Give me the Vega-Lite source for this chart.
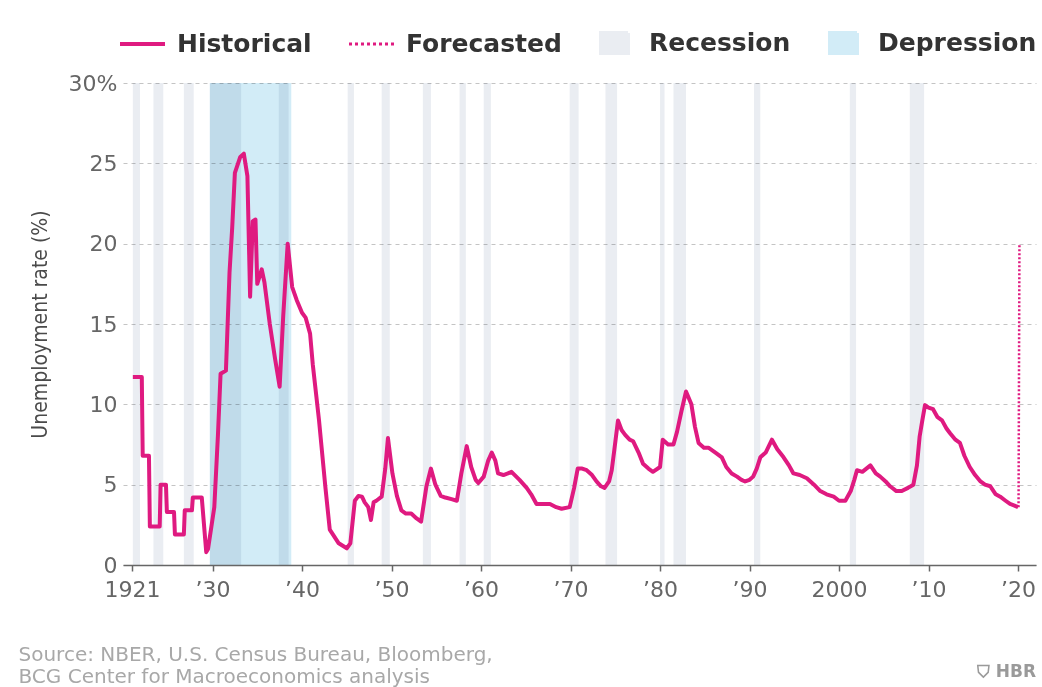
{
  "$schema": "https://vega.github.io/schema/vega-lite/v6.json",
  "width": 913,
  "height": 482,
  "autosize": {"type": "none"},
  "padding": {"left": 123, "top": 83, "right": 6, "bottom": 122},
  "background": "white",
  "config": {"view": {"stroke": null}, "font": "DejaVu Sans"},
  "title": {
    "text": "⛉ HBR",
    "orient": "bottom",
    "anchor": "end",
    "frame": "group",
    "font": "DejaVu Sans",
    "fontSize": 17,
    "fontWeight": "bold",
    "color": "#9a9a9a",
    "offset": 0,
    "dy": -22
  },
  "datasets": {
    "shading": [
      {"kind": "Depression", "start": 1929.7, "end": 1938.8},
      {"kind": "Recession", "start": 1921.1, "end": 1921.9},
      {"kind": "Recession", "start": 1923.4, "end": 1924.5},
      {"kind": "Recession", "start": 1926.8, "end": 1927.9},
      {"kind": "Recession", "start": 1929.7, "end": 1933.2},
      {"kind": "Recession", "start": 1937.4, "end": 1938.5},
      {"kind": "Recession", "start": 1945.1, "end": 1945.8},
      {"kind": "Recession", "start": 1948.9, "end": 1949.8},
      {"kind": "Recession", "start": 1953.5, "end": 1954.4},
      {"kind": "Recession", "start": 1957.6, "end": 1958.3},
      {"kind": "Recession", "start": 1960.3, "end": 1961.1},
      {"kind": "Recession", "start": 1969.9, "end": 1970.9},
      {"kind": "Recession", "start": 1973.9, "end": 1975.2},
      {"kind": "Recession", "start": 1980.0, "end": 1980.5},
      {"kind": "Recession", "start": 1981.5, "end": 1982.9},
      {"kind": "Recession", "start": 1990.5, "end": 1991.2},
      {"kind": "Recession", "start": 2001.2, "end": 2001.9},
      {"kind": "Recession", "start": 2007.9, "end": 2009.5}
    ],
    "historical": [
      {"year": 1921.1, "rate": 11.7}, {"year": 1922.1, "rate": 11.7},
      {"year": 1922.2, "rate": 6.8}, {"year": 1922.9, "rate": 6.8},
      {"year": 1923.0, "rate": 2.4}, {"year": 1924.1, "rate": 2.4},
      {"year": 1924.2, "rate": 5.0}, {"year": 1924.8, "rate": 5.0},
      {"year": 1924.9, "rate": 3.3}, {"year": 1925.7, "rate": 3.3},
      {"year": 1925.8, "rate": 1.9}, {"year": 1926.8, "rate": 1.9},
      {"year": 1926.9, "rate": 3.4}, {"year": 1927.7, "rate": 3.4},
      {"year": 1927.8, "rate": 4.2}, {"year": 1928.8, "rate": 4.2},
      {"year": 1929.3, "rate": 0.8}, {"year": 1929.5, "rate": 1.0},
      {"year": 1930.2, "rate": 3.6}, {"year": 1930.6, "rate": 8.0},
      {"year": 1930.9, "rate": 11.9}, {"year": 1931.5, "rate": 12.1},
      {"year": 1931.9, "rate": 18.2}, {"year": 1932.2, "rate": 21.0},
      {"year": 1932.5, "rate": 24.4}, {"year": 1933.1, "rate": 25.4},
      {"year": 1933.5, "rate": 25.6}, {"year": 1933.9, "rate": 24.2},
      {"year": 1934.2, "rate": 16.7}, {"year": 1934.5, "rate": 21.4},
      {"year": 1934.8, "rate": 21.5}, {"year": 1935.0, "rate": 17.5},
      {"year": 1935.5, "rate": 18.4}, {"year": 1935.8, "rate": 17.6},
      {"year": 1936.4, "rate": 15.0}, {"year": 1937.0, "rate": 12.8},
      {"year": 1937.5, "rate": 11.1}, {"year": 1937.9, "rate": 15.5},
      {"year": 1938.4, "rate": 20.0}, {"year": 1938.9, "rate": 17.3},
      {"year": 1939.4, "rate": 16.5}, {"year": 1940.0, "rate": 15.7},
      {"year": 1940.4, "rate": 15.4}, {"year": 1940.9, "rate": 14.4},
      {"year": 1941.2, "rate": 12.5}, {"year": 1941.9, "rate": 9.0},
      {"year": 1942.6, "rate": 4.9}, {"year": 1943.1, "rate": 2.2},
      {"year": 1944.1, "rate": 1.35}, {"year": 1945.0, "rate": 1.04},
      {"year": 1945.4, "rate": 1.35}, {"year": 1945.9, "rate": 4.0},
      {"year": 1946.3, "rate": 4.3}, {"year": 1946.7, "rate": 4.25},
      {"year": 1947.0, "rate": 3.9}, {"year": 1947.4, "rate": 3.6},
      {"year": 1947.7, "rate": 2.8}, {"year": 1948.0, "rate": 3.9},
      {"year": 1948.3, "rate": 4.0}, {"year": 1948.9, "rate": 4.25},
      {"year": 1949.3, "rate": 6.0}, {"year": 1949.6, "rate": 7.9},
      {"year": 1950.1, "rate": 5.7}, {"year": 1950.6, "rate": 4.3},
      {"year": 1951.1, "rate": 3.4}, {"year": 1951.6, "rate": 3.2},
      {"year": 1952.2, "rate": 3.2}, {"year": 1952.8, "rate": 2.9},
      {"year": 1953.3, "rate": 2.7}, {"year": 1953.9, "rate": 4.9},
      {"year": 1954.4, "rate": 6.0}, {"year": 1954.9, "rate": 5.0},
      {"year": 1955.5, "rate": 4.3}, {"year": 1956.0, "rate": 4.2},
      {"year": 1956.7, "rate": 4.1}, {"year": 1957.3, "rate": 4.0},
      {"year": 1957.8, "rate": 5.7}, {"year": 1958.4, "rate": 7.4},
      {"year": 1958.9, "rate": 6.1}, {"year": 1959.4, "rate": 5.3},
      {"year": 1959.7, "rate": 5.1}, {"year": 1960.3, "rate": 5.5},
      {"year": 1960.8, "rate": 6.5}, {"year": 1961.2, "rate": 7.0},
      {"year": 1961.6, "rate": 6.5}, {"year": 1961.9, "rate": 5.7},
      {"year": 1962.5, "rate": 5.6}, {"year": 1963.0, "rate": 5.7},
      {"year": 1963.4, "rate": 5.8}, {"year": 1964.3, "rate": 5.3},
      {"year": 1965.1, "rate": 4.8}, {"year": 1965.6, "rate": 4.4},
      {"year": 1966.2, "rate": 3.8}, {"year": 1966.8, "rate": 3.8},
      {"year": 1967.7, "rate": 3.8}, {"year": 1968.4, "rate": 3.6},
      {"year": 1969.0, "rate": 3.5}, {"year": 1969.9, "rate": 3.6},
      {"year": 1970.4, "rate": 4.8}, {"year": 1970.8, "rate": 6.0},
      {"year": 1971.3, "rate": 6.0}, {"year": 1971.8, "rate": 5.9},
      {"year": 1972.4, "rate": 5.6}, {"year": 1972.9, "rate": 5.2},
      {"year": 1973.4, "rate": 4.9}, {"year": 1973.8, "rate": 4.8},
      {"year": 1974.3, "rate": 5.2}, {"year": 1974.6, "rate": 5.9},
      {"year": 1974.9, "rate": 7.2}, {"year": 1975.3, "rate": 9.0},
      {"year": 1975.7, "rate": 8.4}, {"year": 1976.1, "rate": 8.1},
      {"year": 1976.6, "rate": 7.8}, {"year": 1977.0, "rate": 7.7},
      {"year": 1977.6, "rate": 7.0}, {"year": 1978.1, "rate": 6.3},
      {"year": 1978.7, "rate": 6.0}, {"year": 1979.2, "rate": 5.8},
      {"year": 1980.0, "rate": 6.1}, {"year": 1980.3, "rate": 7.8},
      {"year": 1980.9, "rate": 7.5}, {"year": 1981.5, "rate": 7.5},
      {"year": 1981.9, "rate": 8.3}, {"year": 1982.4, "rate": 9.6},
      {"year": 1982.9, "rate": 10.8}, {"year": 1983.5, "rate": 10.0},
      {"year": 1983.9, "rate": 8.6}, {"year": 1984.3, "rate": 7.6},
      {"year": 1984.9, "rate": 7.3}, {"year": 1985.4, "rate": 7.3},
      {"year": 1986.3, "rate": 6.95}, {"year": 1986.9, "rate": 6.7},
      {"year": 1987.4, "rate": 6.1}, {"year": 1988.0, "rate": 5.7},
      {"year": 1988.6, "rate": 5.5}, {"year": 1989.1, "rate": 5.3},
      {"year": 1989.5, "rate": 5.2}, {"year": 1990.0, "rate": 5.3},
      {"year": 1990.4, "rate": 5.5}, {"year": 1990.8, "rate": 6.0},
      {"year": 1991.2, "rate": 6.7}, {"year": 1991.8, "rate": 7.0},
      {"year": 1992.5, "rate": 7.8}, {"year": 1993.1, "rate": 7.2},
      {"year": 1993.8, "rate": 6.7}, {"year": 1994.4, "rate": 6.2},
      {"year": 1994.9, "rate": 5.7}, {"year": 1995.6, "rate": 5.6},
      {"year": 1996.4, "rate": 5.4}, {"year": 1997.2, "rate": 5.0},
      {"year": 1997.9, "rate": 4.6}, {"year": 1998.6, "rate": 4.4},
      {"year": 1999.4, "rate": 4.25}, {"year": 2000.0, "rate": 4.0},
      {"year": 2000.7, "rate": 4.0}, {"year": 2001.3, "rate": 4.6},
      {"year": 2001.7, "rate": 5.3}, {"year": 2002.0, "rate": 5.9},
      {"year": 2002.6, "rate": 5.8}, {"year": 2003.5, "rate": 6.2},
      {"year": 2004.1, "rate": 5.7}, {"year": 2004.6, "rate": 5.5},
      {"year": 2005.2, "rate": 5.2}, {"year": 2005.7, "rate": 4.9},
      {"year": 2006.4, "rate": 4.6}, {"year": 2007.0, "rate": 4.6},
      {"year": 2007.7, "rate": 4.8}, {"year": 2008.3, "rate": 5.0},
      {"year": 2008.7, "rate": 6.2}, {"year": 2009.0, "rate": 8.0},
      {"year": 2009.3, "rate": 9.0}, {"year": 2009.6, "rate": 9.95},
      {"year": 2010.0, "rate": 9.8}, {"year": 2010.5, "rate": 9.7},
      {"year": 2011.0, "rate": 9.2}, {"year": 2011.5, "rate": 9.0},
      {"year": 2012.0, "rate": 8.5}, {"year": 2012.4, "rate": 8.2},
      {"year": 2013.0, "rate": 7.8}, {"year": 2013.5, "rate": 7.6},
      {"year": 2014.0, "rate": 6.8}, {"year": 2014.6, "rate": 6.1},
      {"year": 2015.2, "rate": 5.6}, {"year": 2015.8, "rate": 5.2},
      {"year": 2016.3, "rate": 5.0}, {"year": 2016.9, "rate": 4.9},
      {"year": 2017.5, "rate": 4.4}, {"year": 2018.0, "rate": 4.25},
      {"year": 2018.6, "rate": 4.0}, {"year": 2019.1, "rate": 3.8},
      {"year": 2019.6, "rate": 3.7}, {"year": 2020.0, "rate": 3.6}
    ],
    "forecast": [
      {"year": 2020.05, "rate": 3.6},
      {"year": 2020.15, "rate": 20.0}
    ]
  },
  "encoding": {
    "x": {
      "type": "quantitative",
      "scale": {"domain": [1920, 2022], "nice": false, "zero": false},
      "axis": {
        "values": [1921, 1930, 1940, 1950, 1960, 1970, 1980, 1990, 2000, 2010, 2020],
        "labelExpr": "datum.value == 1921 || datum.value == 2000 ? '' + datum.value : '’' + substring('' + datum.value, 2)",
        "grid": false,
        "domainColor": "#666666",
        "domainWidth": 1.5,
        "tickColor": "#666666",
        "tickWidth": 1.5,
        "tickSize": 6,
        "labelFont": "DejaVu Sans",
        "labelFontSize": 22,
        "labelColor": "#666666",
        "labelPadding": 8,
        "title": ["Source: NBER, U.S. Census Bureau, Bloomberg,", "BCG Center for Macroeconomics analysis"],
        "titleFont": "DejaVu Sans",
        "titleFontSize": 20,
        "titleFontWeight": "normal",
        "titleColor": "#a8a8a8",
        "titleLineHeight": 22,
        "titleAnchor": "start",
        "titleAlign": "left",
        "titleBaseline": "alphabetic",
        "titleAngle": 0,
        "titleX": -105,
        "titleY": 95,
        "zindex": 1
      }
    }
  },
  "layer": [
    {
      "data": {"name": "shading"},
      "mark": {"type": "rect", "blend": "multiply"},
      "encoding": {
        "x": {"field": "start"},
        "x2": {"field": "end"},
        "color": {
          "field": "kind",
          "type": "nominal",
          "scale": {
            "domain": ["Historical", "Forecasted", "Recession", "Depression"],
            "range": ["#df1a80", "#df1a80", "#eaedf2", "#d2ecf7"]
          },
          "legend": {
            "orient": "none",
            "legendX": 7,
            "legendY": -62,
            "direction": "horizontal",
            "columns": 4,
            "title": null,
            "padding": 0,
            "symbolSize": 2025,
            "symbolStrokeWidth": 4,
            "labelOffset": 22,
            "columnPadding": 31,
            "labelFont": "DejaVu Sans",
            "labelFontSize": 25,
            "labelFontWeight": "bold",
            "labelColor": "#333333",
            "encode": {
              "symbols": {
                "update": {
                  "y": {"signal": "datum.value === 'Historical' || datum.value === 'Forecasted' ? 19 : 22"},
                  "shape": {"signal": "datum.value === 'Historical' || datum.value === 'Forecasted' ? 'stroke' : 'M-1,-0.74L1,-0.74L1,0.74L-1,0.74Z'"},
                  "size": {"signal": "datum.value === 'Historical' || datum.value === 'Forecasted' ? 2025 : 729"},
                  "stroke": {"signal": "datum.value === 'Historical' || datum.value === 'Forecasted' ? '#df1a80' : 'transparent'"},
                  "fill": {"signal": "datum.value === 'Historical' || datum.value === 'Forecasted' ? 'transparent' : scale('color', datum.value)"},
                  "strokeWidth": {"signal": "datum.value === 'Forecasted' ? 3 : 4"},
                  "strokeDash": {"signal": "datum.value === 'Forecasted' ? [3, 3] : [1, 0]"},
                  "opacity": {"value": 1}
                }
              },
              "labels": {
                "update": {
                  "y": {"signal": "datum.value === 'Historical' || datum.value === 'Forecasted' ? 19 : 22"},
                  "baseline": {"value": "middle"}
                }
              }
            }
          }
        }
      }
    },
    {
      "data": {"name": "historical"},
      "mark": {"type": "line", "strokeWidth": 4, "strokeJoin": "round"},
      "encoding": {
        "x": {"field": "year", "type": "quantitative"},
        "y": {
          "field": "rate",
          "type": "quantitative",
          "scale": {"domain": [0, 30], "nice": false},
          "axis": {
            "values": [0, 5, 10, 15, 20, 25, 30],
            "labelExpr": "datum.value == 30 ? '30%' : datum.label",
            "domain": false,
            "ticks": false,
            "grid": true,
            "gridDash": [4, 4],
            "gridColor": "#c4c4c4",
            "gridWidth": 1,
            "labelFont": "DejaVu Sans",
            "labelFontSize": 22,
            "labelColor": "#666666",
            "labelPadding": 6,
            "title": "Unemployment rate (%)",
            "titleFont": "Liberation Sans Narrow, DejaVu Sans Condensed, sans-serif",
            "titleFontSize": 21,
            "titleFontWeight": "normal",
            "titleColor": "#4a4a4a",
            "titleAngle": -90,
            "titleAlign": "center",
            "titleBaseline": "middle",
            "titleX": -83,
            "titleY": 241
          }
        },
        "color": {"datum": "Historical", "type": "nominal"}
      }
    },
    {
      "data": {"name": "forecast"},
      "mark": {"type": "line", "strokeWidth": 2.5, "strokeDash": [2, 2]},
      "encoding": {
        "x": {"field": "year", "type": "quantitative"},
        "y": {"field": "rate", "type": "quantitative"},
        "color": {"datum": "Forecasted", "type": "nominal"}
      }
    }
  ]
}
